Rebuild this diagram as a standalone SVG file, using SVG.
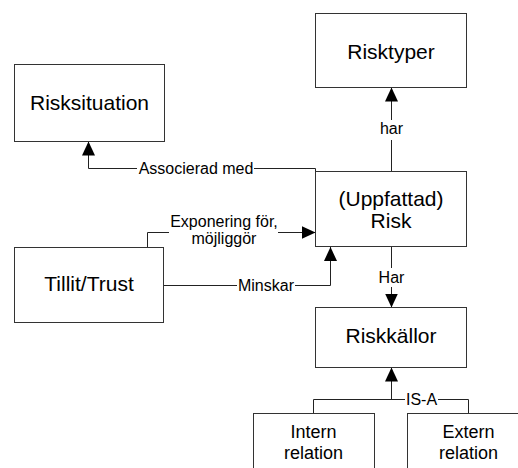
<svg xmlns="http://www.w3.org/2000/svg" width="518" height="468" viewBox="0 0 518 468">
  <style>
    .box { fill: #ffffff; stroke: #333333; stroke-width: 1; }
    .name { font-family: "Liberation Sans", Arial, sans-serif; font-size: 21px; fill: #000000; text-anchor: middle; }
    .name2 { font-family: "Liberation Sans", Arial, sans-serif; font-size: 18px; fill: #000000; text-anchor: middle; }
    .link { fill: none; stroke: #222222; stroke-width: 1; }
    .lbl { font-family: "Liberation Sans", Arial, sans-serif; font-size: 16px; fill: #000000; text-anchor: middle; }
  </style>
  <defs>
    <marker id="arrow" markerUnits="userSpaceOnUse" markerWidth="14" markerHeight="13" refX="14" refY="6.5" orient="auto">
      <path d="M0,0 L14,6.5 L0,13 Z" fill="#000000"/>
    </marker>
  </defs>
  <rect width="518" height="468" fill="#ffffff"/>

  <g id="connectors">
    <!-- Risk -> Risktyper : har -->
    <path class="link" d="M391.5,171 V140"/>
    <path class="link" d="M391.5,120 V87.5" marker-end="url(#arrow)"/>
    <text class="lbl" x="391.5" y="134">har</text>

    <!-- Risk -> Risksituation : Associerad med -->
    <path class="link" d="M315.5,171.5 V168.5 H254"/>
    <path class="link" d="M137,168.5 H88.5 V141.5" marker-end="url(#arrow)"/>
    <text class="lbl" x="196" y="174">Associerad med</text>

    <!-- Tillit/Trust -> Risk : Exponering för, möjliggör -->
    <path class="link" d="M147.5,247.5 V232.5 H169"/>
    <path class="link" d="M278,232.5 H315.5" marker-end="url(#arrow)"/>
    <text class="lbl" x="224" y="227">Exponering för,</text>
    <text class="lbl" x="224" y="244">möjliggör</text>

    <!-- Tillit/Trust -> Risk : Minskar -->
    <path class="link" d="M163.5,285.5 H237"/>
    <path class="link" d="M295,285.5 H330.5 V247" marker-end="url(#arrow)"/>
    <text class="lbl" x="266" y="291">Minskar</text>

    <!-- Risk -> Riskkällor : Har -->
    <path class="link" d="M391.5,247 V268"/>
    <path class="link" d="M391.5,287 V307.5" marker-end="url(#arrow)"/>
    <text class="lbl" x="391.5" y="283">Har</text>

    <!-- Intern / Extern relation -> Riskkällor : IS-A -->
    <path class="link" d="M313.5,413.5 V399.5 H405"/>
    <path class="link" d="M438,399.5 H468.5 V413.5"/>
    <path class="link" d="M391.5,399.5 V367.5" marker-end="url(#arrow)"/>
    <text class="lbl" x="421.5" y="405">IS-A</text>
  </g>

  <g id="risktyper">
    <rect class="box" x="315.5" y="13.5" width="151" height="74"/>
    <text class="name" x="391" y="59">Risktyper</text>
  </g>

  <g id="risksituation">
    <rect class="box" x="14.5" y="64.5" width="150" height="77"/>
    <text class="name" x="89.5" y="110">Risksituation</text>
  </g>

  <g id="risk">
    <rect class="box" x="315.5" y="171.5" width="151" height="75"/>
    <text class="name" x="391" y="206">(Uppfattad)</text>
    <text class="name" x="391" y="228">Risk</text>
  </g>

  <g id="tillit">
    <rect class="box" x="14.5" y="247.5" width="149" height="75"/>
    <text class="name" x="89" y="291">Tillit/Trust</text>
  </g>

  <g id="riskkallor">
    <rect class="box" x="315.5" y="307.5" width="151" height="60"/>
    <text class="name" x="391" y="343">Riskkällor</text>
  </g>

  <g id="intern">
    <rect class="box" x="253.5" y="413.5" width="121" height="80"/>
    <text class="name2" x="313.5" y="438">Intern</text>
    <text class="name2" x="313.5" y="459">relation</text>
  </g>

  <g id="extern">
    <rect class="box" x="407.5" y="413.5" width="122" height="80"/>
    <text class="name2" x="468.5" y="438">Extern</text>
    <text class="name2" x="468.5" y="459">relation</text>
  </g>
</svg>
